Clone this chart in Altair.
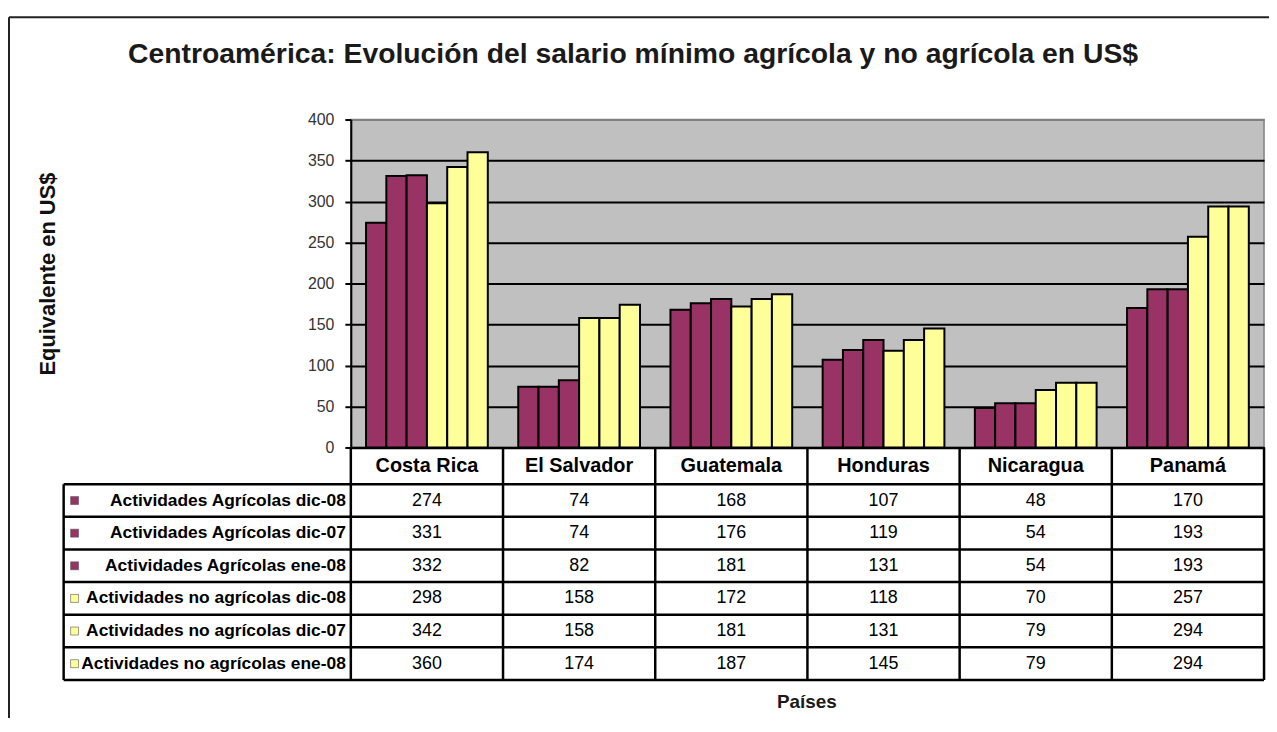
import altair as alt
import pandas as pd

# ---------------- data ----------------
countries = ["Costa Rica", "El Salvador", "Guatemala", "Honduras", "Nicaragua", "Panamá"]
series = [
    "Actividades Agrícolas dic-08",
    "Actividades Agrícolas dic-07",
    "Actividades Agrícolas ene-08",
    "Actividades no agrícolas dic-08",
    "Actividades no agrícolas dic-07",
    "Actividades no agrícolas ene-08",
]
agr_dic08 = [274, 74, 168, 107, 48, 170]
agr_dic07 = [331, 74, 176, 119, 54, 193]
agr_ene08 = [332, 82, 181, 131, 54, 193]
noagr_dic08 = [298, 158, 172, 118, 70, 257]
noagr_dic07 = [342, 158, 181, 131, 79, 294]
noagr_ene08 = [360, 174, 187, 145, 79, 294]
y_ticks = [0, 50, 100, 150, 200, 250, 300, 350, 400]
series_colors = ["#993366", "#993366", "#993366", "#FFFF99", "#FFFF99", "#FFFF99"]

title_text = "Centroamérica: Evolución del salario mínimo agrícola y no agrícola en US$"
y_title = "Equivalente en US$"
x_title = "Países"

all_values = [agr_dic08, agr_dic07, agr_ene08, noagr_dic08, noagr_dic07, noagr_ene08]

rows = []
for r, (s, vals) in enumerate(zip(series, all_values)):
    for c, v in zip(countries, vals):
        rows.append({"country": c, "series": s, "value": v, "rowc": r + 0.5})
df = pd.DataFrame(rows)
series_df = pd.DataFrame({"series": series, "rowc": [i + 0.5 for i in range(len(series))]})
lines_df = pd.DataFrame({"line": list(range(len(series) + 1))})
country_df = pd.DataFrame({"country": countries})

FONT = "Liberation Sans"
W, H = 919, 330

xscale = alt.Scale(domain=countries, paddingInner=0, paddingOuter=0)
xaxis = alt.Axis(labels=False, ticks=False, grid=False, domain=True,
                 domainColor="black", domainWidth=2.5, title=None)
rowscale = alt.Scale(domain=[0, 6], range=[367, 564], nice=False, zero=False)
color_enc = alt.Color("series:N", sort=series,
                      scale=alt.Scale(domain=series, range=series_colors), legend=None)


def xenc(**kw):
    return alt.X("country:N", sort=countries, scale=xscale, axis=xaxis, **kw)


bars = alt.Chart(df).mark_bar(stroke="black", strokeWidth=2).encode(
    x=xenc(),
    xOffset=alt.XOffset("series:N", sort=series,
                        scale=alt.Scale(paddingInner=0, paddingOuter=0.75)),
    y=alt.Y("value:Q", scale=alt.Scale(domain=[0, 400], nice=False),
            axis=alt.Axis(values=y_ticks, grid=True,
                          gridColor=alt.condition("datum.value == 400",
                                                  alt.value("#808080"), alt.value("black")),
                          gridWidth=2, domainColor="black", domainWidth=2,
                          tickColor="black", tickSize=6, tickWidth=2,
                          labelFont=FONT, labelFontSize=16, labelColor="#333333",
                          labelPadding=11,
                          title=y_title, titleFont=FONT, titleFontSize=22,
                          titleFontWeight="bold", titleColor="#111111",
                          titleX=-305, titleY=155, titleAngle=270,
                          titleAlign="center", titleBaseline="middle")),
    color=color_enc,
)

values_text = alt.Chart(df).mark_text(font=FONT, fontSize=18, color="black",
                                      baseline="middle").encode(
    x=xenc(),
    y=alt.Y("rowc:Q", scale=rowscale, axis=None),
    text=alt.Text("value:Q"),
)

label_text = alt.Chart(series_df).mark_text(font=FONT, fontSize=17.5, fontWeight="bold",
                                            color="black", align="right",
                                            baseline="middle").encode(
    x=alt.value(-5),
    y=alt.Y("rowc:Q", scale=rowscale, axis=None),
    text="series:N",
)

swatches = alt.Chart(series_df).mark_square(size=64, opacity=1, stroke="#555555",
                                            strokeWidth=0.6).encode(
    x=alt.value(-278),
    y=alt.Y("rowc:Q", scale=rowscale, axis=None),
    color=color_enc,
)

h_lines = alt.Chart(lines_df).mark_rule(color="black", strokeWidth=2.5).encode(
    y=alt.Y("line:Q", scale=rowscale, axis=None),
    x=alt.value(-289), x2=alt.value(W),
)

v_lines = alt.Chart(country_df).mark_rule(color="black", strokeWidth=2.5).encode(
    x=xenc(bandPosition=0),
    y=alt.value(H), y2=alt.value(564),
)

right_edge = alt.Chart(country_df.head(1)).mark_rule(color="black", strokeWidth=2.5).encode(
    x=alt.value(W), y=alt.value(H), y2=alt.value(564),
)
label_left = alt.Chart(country_df.head(1)).mark_rule(color="black", strokeWidth=2.5).encode(
    x=alt.value(-289), y=alt.value(367), y2=alt.value(564),
)

header = alt.Chart(country_df).mark_text(font=FONT, fontSize=20, fontWeight="bold",
                                         color="black", baseline="middle").encode(
    x=xenc(),
    y=alt.value(349),
    text="country:N",
)

title_mark = alt.Chart(pd.DataFrame({"t": [title_text]})).mark_text(
    font=FONT, fontSize=28.5, fontWeight="bold", color="#1a1a1a", baseline="alphabetic"
).encode(x=alt.value(284), y=alt.value(-57), text="t:N")

xtitle_mark = alt.Chart(pd.DataFrame({"t": [x_title]})).mark_text(
    font=FONT, fontSize=19, fontWeight="bold", color="#1a1a1a", baseline="middle"
).encode(x=alt.value(459), y=alt.value(586), text="t:N")

frame_top = alt.Chart(country_df.head(1)).mark_rule(color="#222222", strokeWidth=2).encode(
    x=alt.value(-344), x2=alt.value(930), y=alt.value(-103),
)
frame_left = alt.Chart(country_df.head(1)).mark_rule(color="#222222", strokeWidth=2).encode(
    x=alt.value(-344), y=alt.value(-103), y2=alt.value(640),
)

chart = alt.layer(
    bars, h_lines, v_lines, right_edge, label_left, values_text, label_text, swatches,
    header, title_mark, xtitle_mark, frame_top, frame_left,
).resolve_scale(
    y="independent"
).properties(
    width=W, height=H,
    padding={"left": 345, "top": 110, "right": 5, "bottom": 270},
    autosize=alt.AutoSizeParams(type="none"),
    background="white",
).configure_view(
    fill="#C0C0C0", stroke="#808080", strokeWidth=1.5
)

chart.save("out.html", embed_options={"renderer": "svg", "actions": False})
